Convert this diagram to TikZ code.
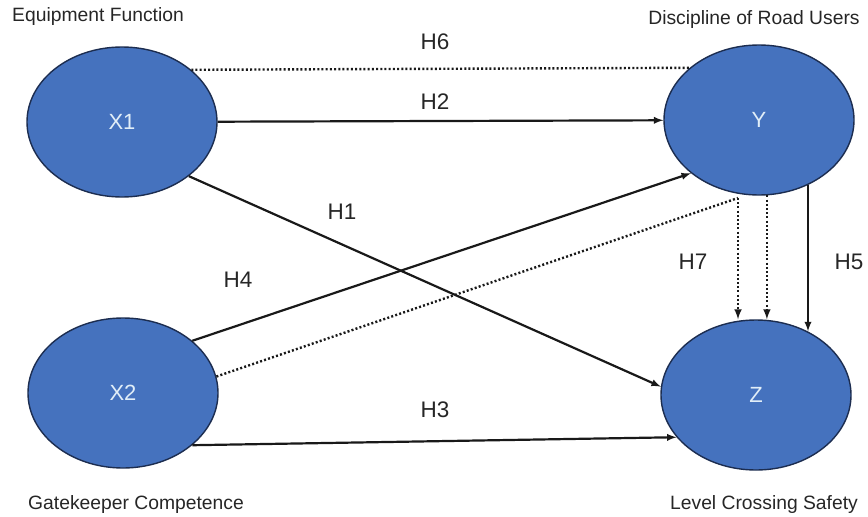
\documentclass[tikz,border=0pt]{standalone}
\usepackage{fontspec}
\setmainfont{Liberation Sans}
\usetikzlibrary{shapes.geometric}
\definecolor{varblue}{RGB}{69,114,190}
\definecolor{varline}{RGB}{28,45,80}
\definecolor{vartext}{RGB}{225,238,248}
\begin{document}
\begin{tikzpicture}[x=1pt,y=-1pt]
\tikzstyle{var}=[ellipse,draw=varline,line width=1.4pt,fill=varblue,minimum width=190pt,minimum height=150pt,inner sep=0pt,text=vartext,font=\fontsize{22}{26}\selectfont]
\tikzstyle{varname}=[inner sep=0pt,font=\fontsize{19.3}{22}\selectfont,text=black!85]
\tikzstyle{hyp}=[inner sep=0pt,font=\fontsize{22.5}{26}\selectfont,text=black!85]
\tikzstyle{causal}=[line width=2.2pt,black!90,-latex]
\tikzstyle{dots}=[line width=2.4pt,black!90,dash pattern=on 2pt off 2.2pt]
\useasboundingbox (0,0) rectangle (868,517);
\node[var] (X1) at (122,122) {X1};
\node[var] (Y) at (759,120) {Y};
\node[var] (X2) at (123,393) {X2};
\node[var] (Z) at (756,395) {Z};
\node[varname] (fX1) at (98,17) {Equipment Function};
\node[varname] (fY) at (754,20) {Discipline of Road Users};
\node[varname] (fX2) at (136,505) {Gatekeeper Competence};
\node[varname] (fZ) at (764,505) {Level Crossing Safety};
\node[hyp] (h6) at (435,42) {H6};
\node[hyp] (h2) at (435,102) {H2};
\node[hyp] (h1) at (342,212) {H1};
\node[hyp] (h4) at (238,280) {H4};
\node[hyp] (h7) at (693,262) {H7};
\node[hyp] (h5) at (849,262) {H5};
\node[hyp] (h3) at (435,410) {H3};
\coordinate (c7) at (738,198);
\draw[dots] (X1.37) -- (Y.143);
\draw[causal] (X1) -- (Y);
\draw[causal] (X1.-39) -- (Z.175);
\draw[causal] (X2.37) -- (Y.-142);
\draw[causal] (X2.-37) -- (Z.-152);
\draw[dots] (X2.10) -- (c7);
\draw[dots,-latex] (c7) -- (c7 |- Z.north);
\draw[dots,-latex] (Y.-84) -- (Y.-84 |- Z.north);
\draw[causal] (Y.-53) -- (Y.-53 |- Z.51);
\end{tikzpicture}
\end{document}
